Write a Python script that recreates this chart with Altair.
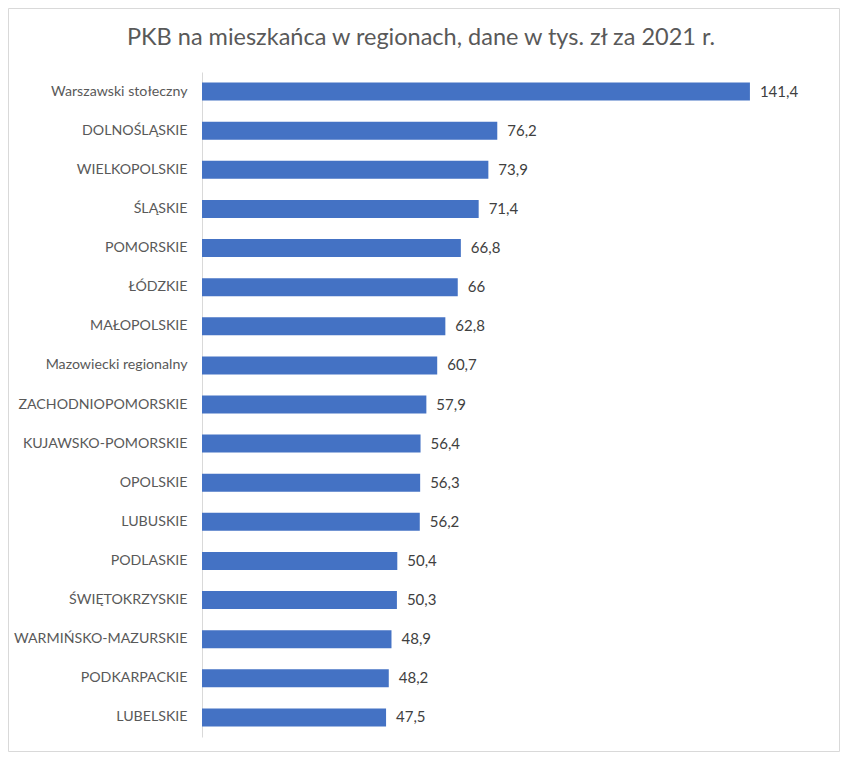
import altair as alt
import pandas as pd

title_text = "PKB na mieszkańca w regionach, dane w tys. zł za 2021 r."
regions = [
    "Warszawski stołeczny", "DOLNOŚLĄSKIE", "WIELKOPOLSKIE", "ŚLĄSKIE",
    "POMORSKIE", "ŁÓDZKIE", "MAŁOPOLSKIE", "Mazowiecki regionalny",
    "ZACHODNIOPOMORSKIE", "KUJAWSKO-POMORSKIE", "OPOLSKIE", "LUBUSKIE",
    "PODLASKIE", "ŚWIĘTOKRZYSKIE", "WARMIŃSKO-MAZURSKIE", "PODKARPACKIE",
    "LUBELSKIE",
]
values = [141.4, 76.2, 73.9, 71.4, 66.8, 66.0, 62.8, 60.7, 57.9, 56.4,
          56.3, 56.2, 50.4, 50.3, 48.9, 48.2, 47.5]
labels = ["141,4", "76,2", "73,9", "71,4", "66,8", "66", "62,8", "60,7",
          "57,9", "56,4", "56,3", "56,2", "50,4", "50,3", "48,9", "48,2", "47,5"]

df = pd.DataFrame({"region": regions, "value": values, "label": labels})

FONT = "Lato"
W, H = 620, 665
PL, PT, PR, PB = 194, 64, 18, 15

y_enc = alt.Y("region:N", sort=None, title=None,
              axis=alt.Axis(labelFontSize=14.2, labelColor="#595959", labelFont=FONT,
                            ticks=False, domainColor="#d9d9d9", domainWidth=1,
                            labelPadding=15, labelLimit=200))
x_enc = alt.X("value:Q", scale=alt.Scale(domain=[0, 160]), axis=None)

bars = alt.Chart(df).mark_bar(color="#4472C4", size=18).encode(x=x_enc, y=y_enc)
text = alt.Chart(df).mark_text(align="left", baseline="middle", dx=10,
                               fontSize=15, color="#404040", font=FONT).encode(
    x=x_enc, y=y_enc, text="label:N")

one = pd.DataFrame({"t": [title_text]})
border = alt.Chart(one).mark_rect(
    fill=None, stroke="#d9d9d9", strokeWidth=1).encode(
    x=alt.value(-PL + 0.5), x2=alt.value(W + PR - 0.5),
    y=alt.value(-PT + 0.5), y2=alt.value(H + PB - 0.5))

title = alt.Chart(one).mark_text(
    align="center", baseline="middle", fontSize=23.5, font=FONT, color="#595959").encode(
    x=alt.value(421 - 8 - PL), y=alt.value(38 - 8 - PT), text="t:N")

chart = alt.layer(border, title, bars, text).properties(
    width=W, height=H,
    padding={"left": PL, "top": PT, "right": PR, "bottom": PB},
    autosize=alt.AutoSizeParams(type="none"),
).configure_view(stroke=None)

chart.save("out.html", embed_options={"renderer": "svg", "actions": False})
